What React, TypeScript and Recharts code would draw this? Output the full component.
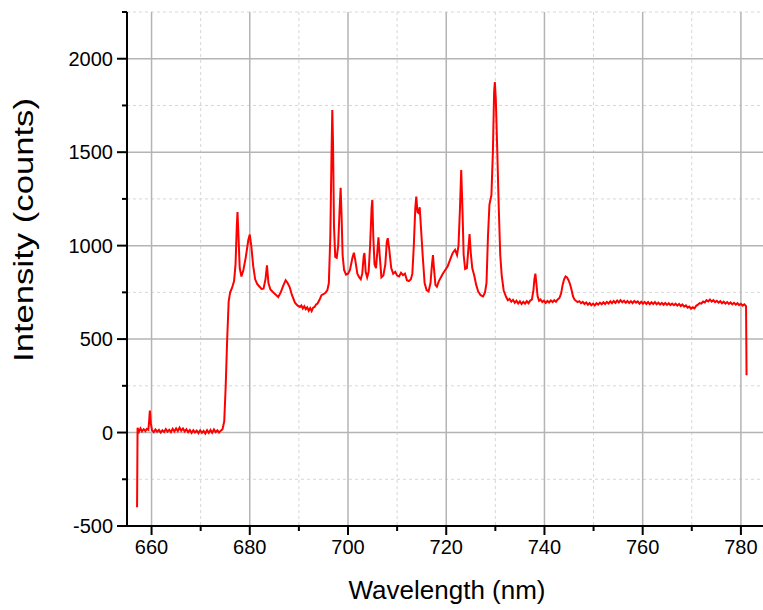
import React from 'react';
import { LineChart, Line, XAxis, YAxis, CartesianGrid } from 'recharts';

// spectrum, [wavelength nm, counts], split by region
const baseline: [number, number][] = [
  [657.05, -400], [657.15, 25], [657.45, 5], [657.75, 22], [658.05, 6], [658.4, 18], [658.75, 8],
  [659.05, 20], [659.35, 15], [659.5, 60], [659.65, 118], [659.85, 50], [660.1, 12], [660.45, 2],
  [660.8, 16], [661.15, 4], [661.5, 14], [661.85, 0], [662.2, 12], [662.55, 3], [662.9, 18],
  [663.25, 5], [663.6, 15], [663.95, 2], [664.3, 20], [664.65, 6], [665.0, 22], [665.35, 8],
  [665.7, 26], [666.05, 10], [666.4, 22], [666.75, 6], [667.1, 18], [667.45, 2], [667.8, 14],
  [668.15, -2], [668.5, 12], [668.85, 0], [669.2, 10], [669.55, -3], [669.9, 12], [670.25, -2],
  [670.6, 9], [670.95, -5], [671.3, 12], [671.65, -2], [672.0, 14], [672.35, -1], [672.7, 16],
  [673.05, 2], [673.4, 12], [673.75, 0], [674.1, 10], [674.45, 18],
];

const peaksLow: [number, number][] = [
  [674.8, 60], [675.1, 250], [675.4, 500], [675.7, 700], [676.0, 750], [676.4, 775], [676.8, 810],
  [677.1, 900], [677.35, 1100], [677.5, 1180], [677.7, 1050], [677.95, 880], [678.3, 835],
  [678.7, 870], [679.2, 940], [679.7, 1030], [680.0, 1059], [680.3, 1000], [680.7, 890],
  [681.1, 820], [681.5, 795], [682.0, 780], [682.4, 768], [682.8, 770], [683.2, 820], [683.5, 895],
  [683.8, 800], [684.2, 765], [684.7, 752], [685.2, 740], [685.8, 725], [686.3, 750], [686.8, 785],
  [687.3, 815], [687.7, 800], [688.1, 780], [688.6, 735], [689.2, 695], [689.7, 680], [690.2, 672],
  [690.5, 680], [690.8, 664], [691.1, 676], [691.4, 660], [691.7, 670], [692.0, 652], [692.3, 666],
  [692.6, 650], [692.9, 668], [693.2, 672], [693.5, 685], [693.8, 690], [694.2, 710], [694.6, 735],
  [695.0, 740], [695.4, 748], [695.8, 762], [696.1, 800], [696.4, 1050], [696.65, 1500],
  [696.8, 1725], [696.95, 1550], [697.15, 1100], [697.4, 940], [697.7, 935], [698.0, 1000],
  [698.3, 1200], [698.5, 1310], [698.7, 1150], [698.9, 950], [699.2, 870], [699.6, 845],
  [700.0, 850], [700.4, 870], [700.9, 935], [701.2, 962], [701.5, 920], [701.9, 850], [702.3, 830],
  [702.6, 820], [702.9, 850], [703.2, 945], [703.35, 960], [703.6, 860], [703.9, 830], [704.2, 860],
  [704.5, 1000], [704.8, 1200], [704.95, 1245], [705.15, 1050], [705.4, 900], [705.7, 880],
  [705.95, 960], [706.2, 1045], [706.45, 950], [706.8, 830], [707.2, 840], [707.6, 900],
  [707.9, 1020], [708.1, 1040], [708.4, 980], [708.8, 880], [709.2, 850], [709.6, 860],
  [710.0, 840], [710.4, 835], [710.8, 855], [711.2, 842], [711.6, 850], [712.0, 815], [712.4, 810],
  [712.8, 820],
];

const peaksHigh: [number, number][] = [
  [713.1, 850], [713.4, 1000], [713.7, 1200], [713.9, 1262], [714.15, 1180], [714.35, 1175],
  [714.6, 1205], [714.85, 1100], [715.2, 950], [715.6, 800], [716.0, 762], [716.4, 755],
  [716.8, 800], [717.1, 900], [717.3, 950], [717.5, 880], [717.8, 790], [718.1, 780], [718.5, 810],
  [718.9, 830], [719.3, 850], [719.8, 870], [720.3, 890], [720.8, 925], [721.3, 960], [721.8, 978],
  [722.2, 950], [722.5, 1000], [722.8, 1200], [723.05, 1405], [723.3, 1200], [723.55, 950],
  [723.85, 875], [724.2, 880], [724.5, 980], [724.75, 1062], [725.0, 960], [725.3, 880],
  [725.7, 840], [726.1, 790], [726.5, 755], [727.0, 735], [727.5, 728], [727.9, 750], [728.2, 800],
  [728.5, 1050], [728.8, 1220], [729.2, 1270], [729.5, 1500], [729.75, 1820], [729.9, 1875],
  [730.1, 1780], [730.4, 1500], [730.7, 1200], [731.0, 950], [731.3, 840], [731.7, 760],
  [732.2, 725], [732.55, 708], [732.9, 715], [733.25, 700], [733.6, 710], [733.95, 694],
  [734.3, 705], [734.65, 690], [735.0, 702], [735.35, 688], [735.7, 700], [736.05, 690],
  [736.4, 703], [736.75, 692], [737.1, 706], [737.45, 712], [737.75, 760], [737.95, 820],
  [738.15, 850], [738.35, 800], [738.6, 730], [738.9, 705], [739.2, 712], [739.55, 698],
  [739.9, 706], [740.25, 694], [740.6, 704], [740.95, 696], [741.3, 707], [741.65, 698],
  [742.0, 708], [742.35, 700], [742.7, 712], [743.05, 720], [743.4, 745], [743.7, 790],
  [744.0, 820], [744.3, 835], [744.6, 830], [744.9, 815], [745.2, 795], [745.5, 765], [745.8, 730],
  [746.1, 712],
];

const tail: [number, number][] = [
  [746.4, 705], [746.75, 698], [747.1, 703], [747.45, 692], [747.8, 699], [748.15, 688],
  [748.5, 696], [748.85, 684], [749.2, 693], [749.55, 681], [749.9, 690], [750.25, 680],
  [750.6, 692], [750.95, 684], [751.3, 695], [751.65, 686], [752.0, 697], [752.35, 688],
  [752.7, 699], [753.05, 690], [753.4, 702], [753.75, 692], [754.1, 704], [754.45, 694],
  [754.8, 706], [755.15, 696], [755.5, 708], [755.85, 697], [756.2, 705], [756.55, 694],
  [756.9, 704], [757.25, 693], [757.6, 703], [757.95, 692], [758.3, 704], [758.65, 695],
  [759.0, 702], [759.35, 690], [759.7, 700], [760.05, 689], [760.4, 699], [760.75, 688],
  [761.1, 698], [761.45, 687], [761.8, 697], [762.15, 688], [762.5, 698], [762.85, 686],
  [763.2, 695], [763.55, 685], [763.9, 694], [764.25, 684], [764.6, 693], [764.95, 683],
  [765.3, 692], [765.65, 682], [766.0, 690], [766.35, 681], [766.7, 689], [767.05, 679],
  [767.4, 688], [767.75, 677], [768.1, 685], [768.45, 674], [768.8, 680], [769.15, 668],
  [769.5, 674], [769.85, 662], [770.2, 670], [770.55, 664], [770.9, 678], [771.25, 684],
  [771.6, 693], [771.95, 690], [772.3, 701], [772.65, 696], [773.0, 708], [773.35, 702],
  [773.7, 712], [774.05, 701], [774.4, 708], [774.75, 698], [775.1, 705], [775.45, 695],
  [775.8, 703], [776.15, 692], [776.5, 700], [776.85, 690], [777.2, 698], [777.55, 688],
  [777.9, 696], [778.25, 686], [778.6, 694], [778.95, 684], [779.3, 692], [779.65, 682],
  [780.0, 689], [780.35, 679], [780.7, 686], [781.05, 676], [781.15, 306],
];

const xMajor = [660, 680, 700, 720, 740, 760, 780];
const xMinor = [670, 690, 710, 730, 750, 770];
const yMajor = [-500, 0, 500, 1000, 1500, 2000];
const yMinor = [-250, 250, 750, 1250, 1750, 2250];

const data = [...baseline, ...peaksLow, ...peaksHigh, ...tail].map(([w, v]) => ({ w, v }));

const FONT = '"Liberation Sans", Arial, sans-serif';

const XTick = (props: any) => {
  const { x, y, payload } = props;
  const major = xMajor.includes(payload.value);
  return (
    <g>
      <line x1={x} x2={x} y1={y} y2={y + (major ? 9 : 5)} stroke="#000" strokeWidth={2} />
      {major && (
        <text x={x} y={y + 28} textAnchor="middle" fontFamily={FONT} fontSize={20} fill="#000">
          {payload.value}
        </text>
      )}
    </g>
  );
};

const YTick = (props: any) => {
  const { x, y, payload } = props;
  const major = yMajor.includes(payload.value);
  return (
    <g>
      <line x1={x} x2={x - (major ? 10 : 5)} y1={y} y2={y} stroke="#000" strokeWidth={2} />
      {major && (
        <text x={x - 14} y={y + 7} textAnchor="end" fontFamily={FONT} fontSize={20} fill="#000">
          {payload.value}
        </text>
      )}
    </g>
  );
};

const XTitle = () => (
  <text x={447} y={599} textAnchor="middle" fontFamily={FONT} fontSize={26} fill="#000">
    Wavelength (nm)
  </text>
);

const YTitle = () => (
  <text
    x={0}
    y={0}
    transform="translate(33 230) rotate(-90)"
    textAnchor="middle"
    fontFamily={FONT}
    fontSize={27}
    textLength={264}
    lengthAdjust="spacingAndGlyphs"
    fill="#000"
  >
    Intensity (counts)
  </text>
);

export default function App() {
  return (
    <div style={{ position: 'absolute', left: 0, top: 0, width: 763, height: 610, background: '#fff', overflow: 'hidden' }}>
      <LineChart width={763} height={610} data={data} margin={{ top: 12, right: 0, bottom: 0, left: 0 }}>
        <CartesianGrid
          verticalValues={xMinor}
          horizontalValues={yMinor}
          stroke="#d6d6d6"
          strokeDasharray="3 3"
          strokeWidth={1}
        />
        <CartesianGrid verticalValues={xMajor} horizontalValues={yMajor} stroke="#b4b4b4" strokeWidth={1.5} />
        <XAxis
          dataKey="w"
          type="number"
          domain={[655, 784.5]}
          allowDataOverflow
          ticks={[...xMajor, ...xMinor].sort((a, b) => a - b)}
          interval={0}
          height={84}
          tickSize={0}
          tickMargin={0}
          tickLine={false}
          tick={<XTick />}
          axisLine={{ stroke: '#000', strokeWidth: 2 }}
          label={<XTitle />}
        />
        <YAxis
          type="number"
          domain={[-500, 2250]}
          allowDataOverflow
          ticks={[...yMajor, ...yMinor].sort((a, b) => a - b)}
          interval={0}
          width={127}
          tickSize={0}
          tickMargin={0}
          tickLine={false}
          tick={<YTick />}
          axisLine={{ stroke: '#000', strokeWidth: 2 }}
          label={<YTitle />}
        />
        <Line
          dataKey="v"
          type="linear"
          stroke="#ff0000"
          strokeWidth={2}
          dot={false}
          isAnimationActive={false}
        />
      </LineChart>
    </div>
  );
}
